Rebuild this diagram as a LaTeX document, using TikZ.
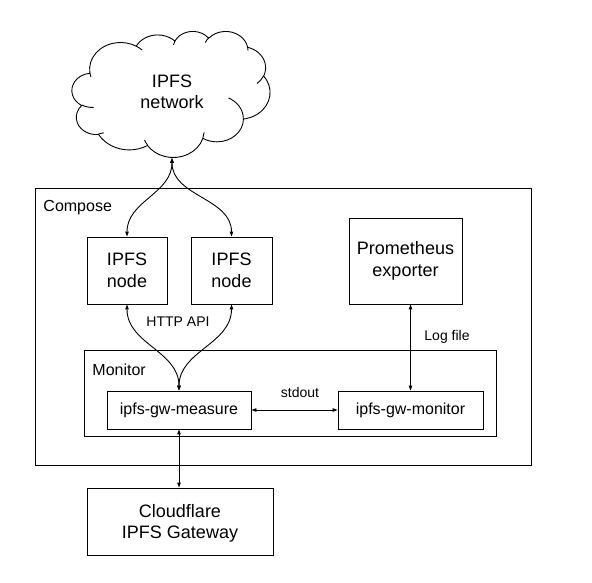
\documentclass[tikz,border=0pt]{standalone}
\usepackage{fontspec}
\setmainfont{Liberation Sans}
\usetikzlibrary{arrows.meta}

% parametric angles of an arc given by its visual start angle and sweep
\newcommand\cloudangles[4]{%
  \pgfmathsetmacro\cldA{atan2(#1*sin(#3),#2*cos(#3))}%
  \pgfmathsetmacro\cldB{atan2(#1*sin(#3+#4),#2*cos(#3+#4))}%
  \pgfmathsetmacro\cldD{mod(\cldB-\cldA+720,360)}%
  \global\let\cldA\cldA \global\let\cldD\cldD}

\tikzset{
  blk/.style={draw, align=center, inner sep=0pt, font=\fontsize{18}{21.5}\selectfont},
  proc/.style={draw, align=center, inner sep=0pt, font=\fontsize{16}{19}\selectfont},
  frame/.style={draw, inner sep=0pt},
  lbl/.style={inner sep=0pt, font=\fontsize{16}{19}\selectfont},
  conlbl/.style={inner sep=0pt, font=\fontsize{14}{17}\selectfont}
}

\begin{document}
\begin{tikzpicture}[x=1pt, y=1pt, line width=0.9pt, >={Triangle[length=5pt, width=3.5pt]}]
    \useasboundingbox (0,0) rectangle (592,-583);

    % Cloud
    \begin{scope}[shift={(72,-31)}, xscale=198/432, yscale=-126/432]
      \draw (39,143.70)
        \foreach \rx/\ry/\st/\sw in {67.53/91.90/-190.4875/123.7805, 53.33/72.67/-144.1024/89.9452,
            43.65/59.45/-145.8079/99.7230, 48.57/65.95/-130.9861/117.2417, 53.33/72.73/-78.7089/109.0269,
            67.75/92.20/-46.2673/130.2690, 57.85/78.67/0.6250/114.0333, 67.52/92.15/22.4516/115.1726,
            77.20/105.43/66.2426/75.7110, 43.60/59.18/-274.9421/146.7356, 43.45/59.45/-246.8285/152.5189}
        {\pgfextra{\cloudangles{\rx}{\ry}{\st}{\sw}} arc[start angle=\cldA, delta angle=\cldD, x radius=\rx pt, y radius=\ry pt]}
        -- cycle;
      \draw
        \foreach \px/\py/\rx/\ry/\st/\sw in {46.93/261.77/43.45/59.45/86.7420/26.4295, 69.28/348.99/43.60/59.18/73.6105/11.4475,
            164.78/390.90/67.52/92.15/137.6242/14.0811, 288.27/347.51/67.52/92.15/6.4533/15.9984,
            341.29/229.54/57.85/78.67/-70.2924/70.9174, 417.98/153.54/53.33/72.73/30.3180/27.7515,
            383.24/54.26/48.57/65.95/-13.7443/14.8589, 290.78/39.52/48.57/65.95/-149.1815/18.1954,
            221.41/47.20/43.65/59.45/-163.4943/17.6864, 140.00/51.92/67.53/91.90/-66.7070/12.3194,
            41.27/157.89/67.53/91.90/157.6544/11.8582}
        {(\px,\py) \pgfextra{\cloudangles{\rx}{\ry}{\st}{\sw}} arc[start angle=\cldA, delta angle=\cldD, x radius=\rx pt, y radius=\ry pt]};
    \end{scope}
    \node[blk, draw=none] (net) at (172,-92) {IPFS\\network};
    \coordinate (netfoot) at (172,-158);

    % Frames
    \node[frame, minimum width=496pt, minimum height=277pt] (compose) at (283,-326.5) {};
    \node[lbl, anchor=west] (composelbl) at (43,-208) {Compose};
    \node[frame, minimum width=412pt, minimum height=86pt] (monitor) at (290,-393) {};
    \node[lbl, anchor=west] (monitorlbl) at (92,-370) {Monitor};

    % Boxes
    \node[blk, minimum width=80pt, minimum height=67pt] (ipfsA) at (127,-270.5) {IPFS\\node};
    \node[blk, minimum width=81pt, minimum height=67pt] (ipfsB) at (231.5,-270.5) {IPFS\\node};
    \node[blk, minimum width=113pt, minimum height=86pt] (prom) at (405.5,-261) {Prometheus\\exporter};
    \node[proc, minimum width=144pt, minimum height=38pt] (meas) at (179,-410) {ipfs-gw-measure};
    \node[proc, minimum width=145pt, minimum height=38pt] (gwmon) at (410.5,-410) {ipfs-gw-monitor};
    \node[blk, minimum width=186pt, minimum height=67pt, text depth=0pt] (cflare) at (180,-521.5) {Cloudflare\\IPFS Gateway\vphantom{I}};

    % Connectors
    \draw[<->] (netfoot) to[out=-90, in=90] (ipfsA.north);
    \draw[<->] (netfoot) to[out=-90, in=90] (ipfsB.north);
    \draw[<->] (ipfsA.south) to[out=-90, in=90] (meas.north);
    \draw[<->] (ipfsB.south) to[out=-90, in=90] (meas.north);
    \draw[<->] (meas.east) -- (gwmon.west);
    \draw[<->] (gwmon.north) -- (gwmon.north |- prom.south);
    \draw[<->] (meas.south) -- (meas.south |- cflare.north);

    % Labels
    \node[conlbl] (http) at (178,-322) {HTTP API};
    \node[conlbl] (stdout) at (300,-392) {stdout};
    \node[conlbl, anchor=west] (logfile) at (424,-337) {Log file};
\end{tikzpicture}
\end{document}
